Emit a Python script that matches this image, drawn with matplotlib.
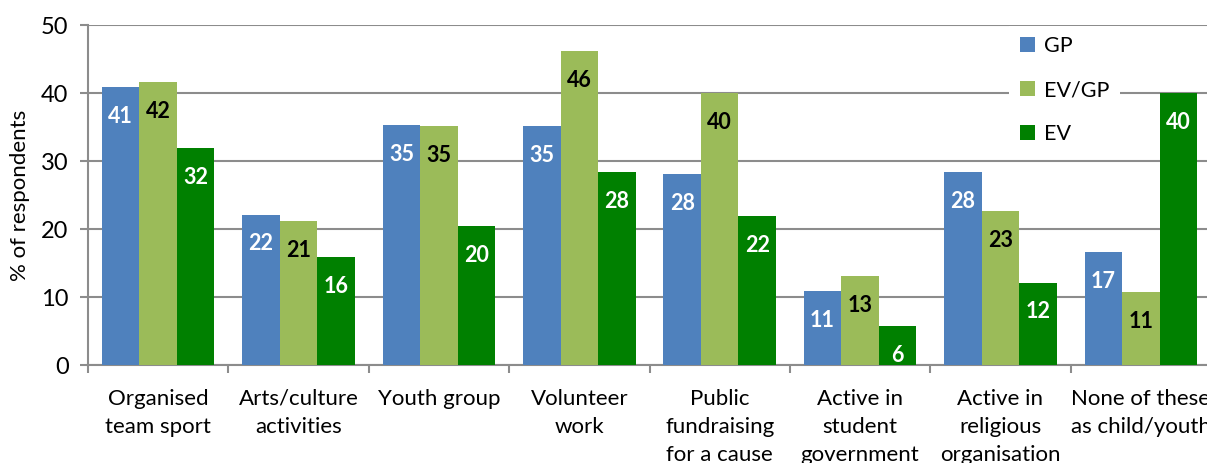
"""Youth activities by respondent group, grouped bars."""

import matplotlib as mpl
import matplotlib.pyplot as plt
import numpy as np
from matplotlib.patches import Patch

BLUE = "#4F81BD"
LIGHT = "#9BBB59"
DARK = "#008000"
GRID = "#8C8C8C"
INK = "#000000"

categories = [
    "Organised\nteam sport",
    "Arts/culture\nactivities",
    "Youth group",
    "Volunteer\nwork",
    "Public\nfundraising\nfor a cause",
    "Active in\nstudent\ngovernment",
    "Active in\nreligious\norganisation",
    "None of these\nas child/youth",
]
series_names = ["GP", "EV/GP", "EV"]
gp = [40.9, 22.1, 35.3, 35.1, 28.1, 10.9, 28.4, 16.6]
ev_gp = [41.6, 21.2, 35.1, 46.2, 40.0, 13.1, 22.6, 10.7]
ev = [31.9, 15.9, 20.4, 28.4, 21.9, 5.7, 12.1, 40.0]
y_ticks = [0, 10, 20, 30, 40, 50]

mpl.rcParams.update({
    "font.family": ["Lato", "DejaVu Sans"],
    "figure.facecolor": "white",
    "axes.facecolor": "white",
})

fig = plt.figure(figsize=(12.07, 4.63), dpi=100)
# axes run slightly past the right edge, like the cropped original
ax = fig.add_axes([88 / 1207, 1 - 365 / 463, (1211 - 88) / 1207, (365 - 25) / 463])

x = np.arange(len(categories))
w = 0.267
series = [gp, ev_gp, ev]
colors = [BLUE, LIGHT, DARK]
text_colors = ["white", INK, "white"]
for i, (vals, col, tcol) in enumerate(zip(series, colors, text_colors)):
    pos = x + (i - 1) * w
    ax.bar(pos, vals, width=w, color=col, zorder=3)
    for px, v in zip(pos, vals):
        ax.annotate(f"{v:.0f}", (px, v), xytext=(0, -21), textcoords="offset points",
                    ha="center", va="center", fontsize=15.5, weight="bold",
                    color=tcol, zorder=4)

ax.set_xlim(-0.5, len(categories) - 0.5)
ax.set_ylim(0, 50)
ax.set_yticks(y_ticks)
ax.set_yticklabels([str(t) for t in y_ticks], fontsize=17)
ax.grid(axis="y", color=GRID, lw=1.5, zorder=0)
ax.set_axisbelow(True)

ax.set_xticks(x)
ax.set_xticklabels(categories, fontsize=16, linespacing=1.5, va="top")
ax.set_xticks(np.arange(len(categories) + 1) - 0.5, minor=True)
ax.tick_params(axis="x", which="major", length=0, pad=17)
ax.tick_params(axis="x", which="minor", length=6, width=1.5, color=GRID, direction="out")
ax.tick_params(axis="y", length=6, width=1.5, color=GRID, direction="out", pad=8)

for side in ["top", "right"]:
    ax.spines[side].set_visible(False)
for side in ["left", "bottom"]:
    ax.spines[side].set_color(GRID)
    ax.spines[side].set_linewidth(1.5)

ax.set_ylabel("% of respondents", fontsize=16, labelpad=8)

handles = [Patch(facecolor=c, edgecolor="none") for c in colors]
leg = ax.legend(handles, series_names, loc="upper left",
                bbox_to_anchor=((998 - 88) / 1123, 1.03), fontsize=15.5,
                frameon=True, facecolor="white", edgecolor="none", framealpha=1,
                handlelength=0.7, handleheight=0.7, handletextpad=0.45,
                labelspacing=1.1, borderpad=0.5, fancybox=False)
leg.set_zorder(5)

fig.savefig("out.png", dpi=100)
